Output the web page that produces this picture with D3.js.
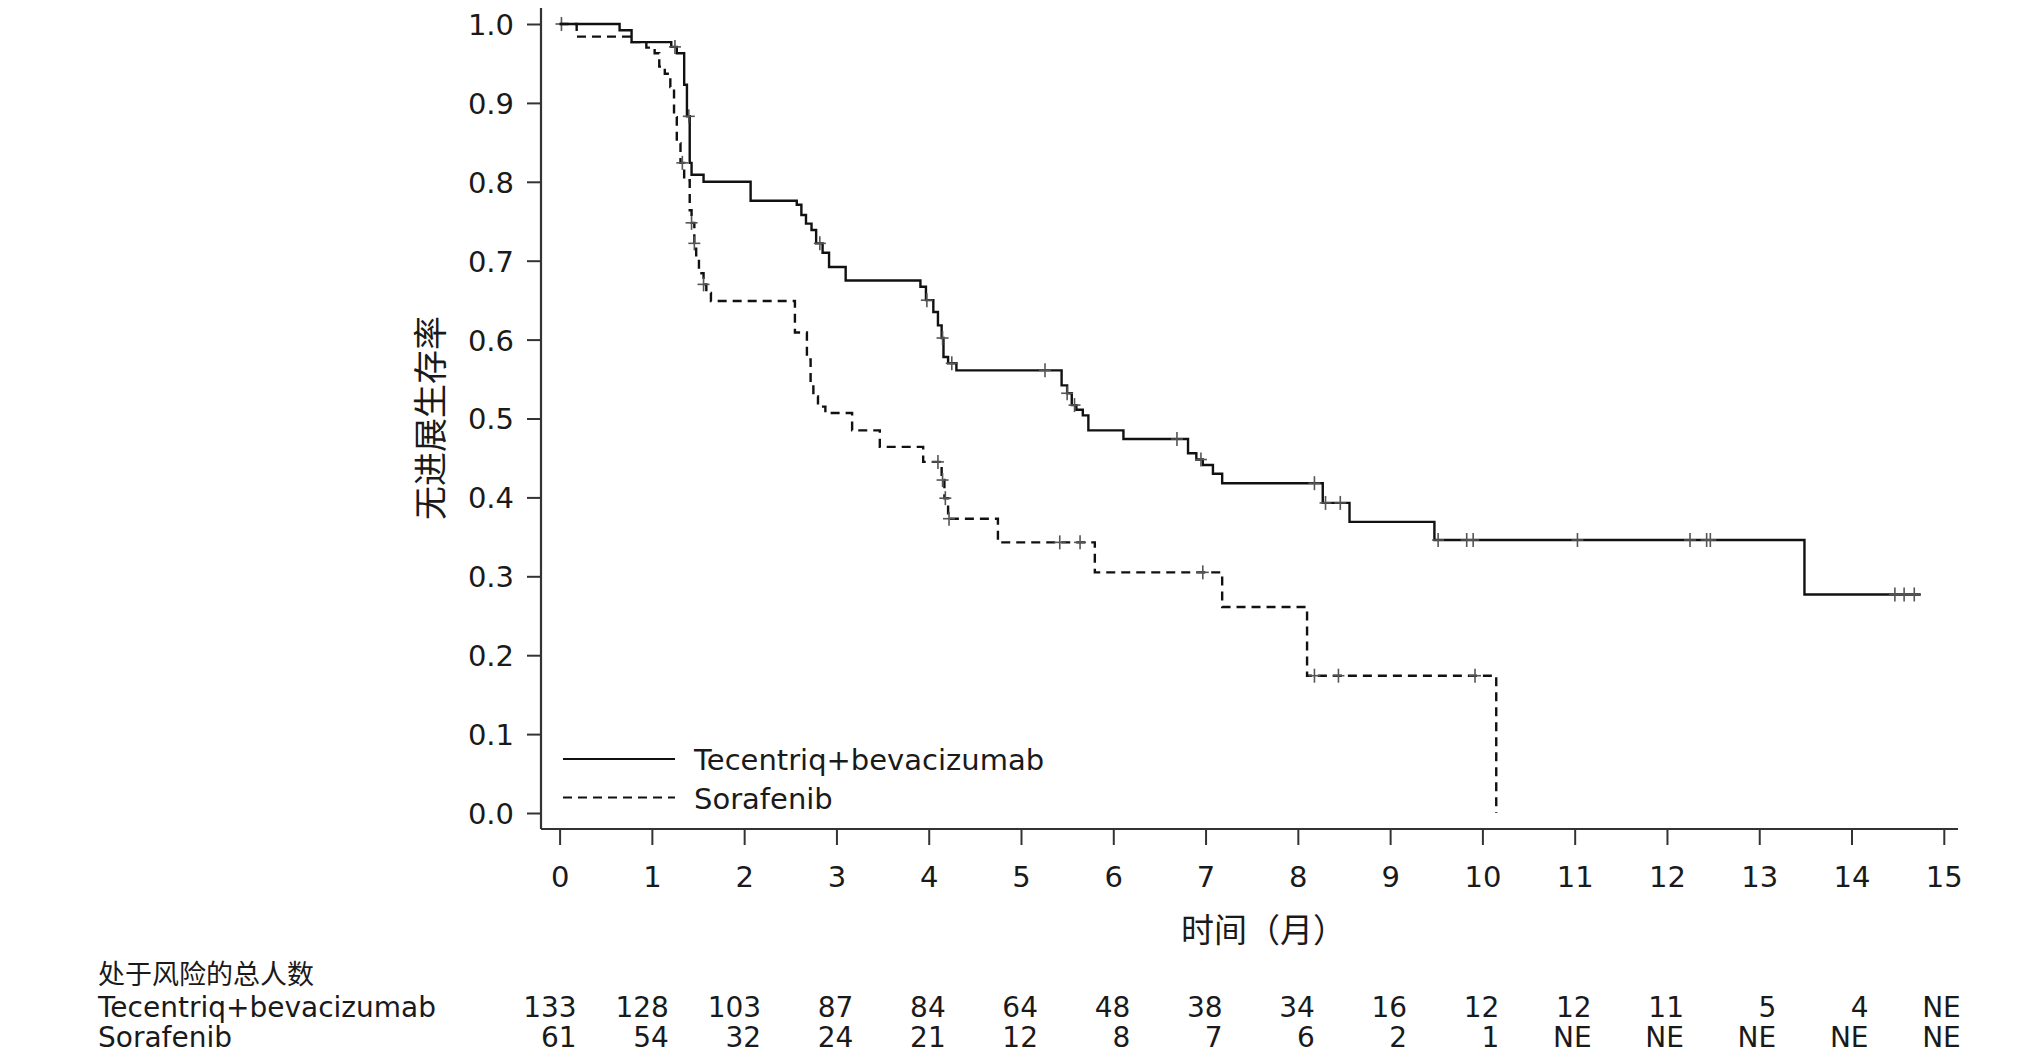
<!DOCTYPE html>
<html lang="zh">
<head>
<meta charset="utf-8" />
<title>无进展生存率</title>
<script src="https://d3js.org/d3.v7.min.js"></script>
<style>
  body { margin: 0; background: #fff; }
  svg text { font-family: "DejaVu Sans", Verdana, sans-serif; fill: #1a1a1a; }
  .cjk { font-family: "Noto Sans CJK SC", "Noto Sans", sans-serif; }
  .axis text { font-size: 29px; }
  .axis line { stroke: #333; stroke-width: 2; }
</style>
</head>
<body>
<svg width="2017" height="1064"></svg>
<script>
// Tecentriq+bevacizumab: step times (months) and survival after each step
var atezoTimes = [0, 0.65, 0.78, 1.21, 1.27, 1.35, 1.38, 1.41, 1.43, 1.56, 2.07, 2.57, 2.62, 2.67, 2.73, 2.78, 2.85, 2.92, 3.10, 3.91, 3.97, 4.05, 4.10, 4.14, 4.16, 4.21, 4.30, 5.44, 5.50, 5.55, 5.60, 5.67, 5.73, 6.11, 6.81, 6.90, 6.97, 7.08, 7.18, 8.27, 8.56, 9.48, 13.49];
var atezoSurv  = [1.0, 0.992, 0.977, 0.971, 0.963, 0.923, 0.883, 0.824, 0.809, 0.800, 0.776, 0.771, 0.758, 0.747, 0.739, 0.722, 0.710, 0.692, 0.675, 0.667, 0.650, 0.635, 0.618, 0.602, 0.578, 0.570, 0.561, 0.542, 0.532, 0.517, 0.511, 0.504, 0.485, 0.474, 0.456, 0.448, 0.441, 0.430, 0.418, 0.393, 0.369, 0.346, 0.277];
var atezoEnd = 14.75;
var atezoCensor = [0.02, 1.25, 1.40, 2.82, 3.98, 4.15, 4.25, 5.26, 5.50, 5.58, 6.69, 6.95, 8.18, 8.30, 8.46, 9.52, 9.83, 9.90, 11.03, 12.25, 12.43, 12.47, 14.47, 14.57, 14.68];

// Sorafenib
var soraTimes = [0, 0.185, 0.78, 0.94, 1.03, 1.08, 1.14, 1.20, 1.24, 1.27, 1.31, 1.35, 1.41, 1.43, 1.46, 1.48, 1.51, 1.56, 1.59, 1.64, 2.55, 2.68, 2.72, 2.75, 2.80, 2.88, 3.17, 3.47, 3.94, 4.14, 4.17, 4.21, 4.75, 5.80, 7.18, 8.10, 10.15];
var soraSurv  = [1.0, 0.984, 0.977, 0.970, 0.963, 0.946, 0.937, 0.920, 0.882, 0.849, 0.824, 0.802, 0.764, 0.748, 0.722, 0.707, 0.684, 0.670, 0.659, 0.649, 0.609, 0.575, 0.545, 0.528, 0.515, 0.507, 0.485, 0.464, 0.445, 0.422, 0.399, 0.373, 0.343, 0.305, 0.261, 0.174, 0.0];
var soraEnd = 10.15;
var soraCensor = [1.33, 1.43, 1.46, 1.56, 4.10, 4.15, 4.18, 4.22, 5.42, 5.64, 6.97, 8.18, 8.44, 9.92];

var xTicks = [0, 1, 2, 3, 4, 5, 6, 7, 8, 9, 10, 11, 12, 13, 14, 15];
var yTicks = [0, 0.1, 0.2, 0.3, 0.4, 0.5, 0.6, 0.7, 0.8, 0.9, 1.0];

var armNames = ["Tecentriq+bevacizumab", "Sorafenib"];
var atezoRisk = ["133", "128", "103", "87", "84", "64", "48", "38", "34", "16", "12", "12", "11", "5", "4", "NE"];
var soraRisk  = ["61", "54", "32", "24", "21", "12", "8", "7", "6", "2", "1", "NE", "NE", "NE", "NE", "NE"];

var svg = d3.select("svg");

var x = d3.scaleLinear().domain([0, 15]).range([559.6, 1943.8]);
var y = d3.scaleLinear().domain([0, 1]).range([813, 24]);

var yAxisX = 541, xAxisY = 829;

// y axis
var gy = svg.append("g")
    .attr("class", "axis")
    .attr("transform", "translate(" + yAxisX + ",0)")
    .call(d3.axisLeft(y).tickValues(yTicks).tickFormat(d3.format(".1f")).tickSize(14).tickPadding(13));
gy.select(".domain").remove();
gy.selectAll("text").attr("dy", "0.36em");
svg.append("line")
    .attr("x1", yAxisX).attr("x2", yAxisX)
    .attr("y1", 8).attr("y2", xAxisY)
    .style("stroke", "#333").style("stroke-width", 2.2);

// x axis
var gx = svg.append("g")
    .attr("class", "axis")
    .attr("transform", "translate(0," + xAxisY + ")")
    .call(d3.axisBottom(x).tickValues(xTicks).tickFormat(d3.format("d")).tickSize(16).tickPadding(21));
gx.select(".domain").remove();
svg.append("line")
    .attr("x1", yAxisX).attr("x2", 1958)
    .attr("y1", xAxisY).attr("y2", xAxisY)
    .style("stroke", "#333").style("stroke-width", 2.2);

// axis titles
svg.append("text")
    .attr("class", "cjk")
    .attr("transform", "translate(428,418) rotate(-90)")
    .attr("text-anchor", "middle")
    .attr("dominant-baseline", "central")
    .style("font-size", "34px")
    .text("无进展生存率");

svg.append("text")
    .attr("class", "cjk")
    .attr("x", 1181)
    .attr("y", 942)
    .style("font-size", "33px")
    .text("时间（月）");

// KM curves
var line = d3.line()
    .x(function(d) { return x(d[0]); })
    .y(function(d) { return y(d[1]); })
    .curve(d3.curveStepAfter);

function steps(times, surv, end) {
  var pts = times.map(function(t, i) { return [t, surv[i]]; });
  pts.push([end, surv[surv.length - 1]]);
  return pts;
}

function survAt(times, surv, t) {
  var s = surv[0];
  for (var i = 0; i < times.length; i++) { if (times[i] <= t) s = surv[i]; }
  return s;
}

var arms = [
  {times: atezoTimes, surv: atezoSurv, end: atezoEnd, censor: atezoCensor, dash: null},
  {times: soraTimes, surv: soraSurv, end: soraEnd, censor: soraCensor, dash: "9,6"}
];

arms.forEach(function(a) {
  svg.append("path")
      .datum(steps(a.times, a.surv, a.end))
      .attr("d", line)
      .style("fill", "none")
      .style("stroke", "#111")
      .style("stroke-width", 2.4)
      .style("stroke-dasharray", a.dash);

  var c = svg.append("g").selectAll("g")
      .data(a.censor).enter().append("g")
      .attr("transform", function(t) { return "translate(" + x(t) + "," + y(survAt(a.times, a.surv, t)) + ")"; });
  c.append("line").attr("x1", -6).attr("x2", 6).attr("y1", 0).attr("y2", 0);
  c.append("line").attr("x1", 0).attr("x2", 0).attr("y1", -7).attr("y2", 7);
  c.selectAll("line").style("stroke", "#555").style("stroke-width", 1.6);
});

// legend
var legend = svg.append("g");
arms.forEach(function(a, i) {
  var ly = 759 + i * 38.5;
  legend.append("line")
      .attr("x1", 563).attr("x2", 675)
      .attr("y1", ly).attr("y2", ly)
      .style("stroke", "#111").style("stroke-width", 2.2)
      .style("stroke-dasharray", a.dash);
  legend.append("text")
      .attr("x", 694)
      .attr("y", ly + 11)
      .style("font-size", "29px")
      .text(armNames[i]);
});

// number at risk table
svg.append("text")
    .attr("class", "cjk")
    .attr("x", 98)
    .attr("y", 984)
    .style("font-size", "27px")
    .text("处于风险的总人数");

[atezoRisk, soraRisk].forEach(function(row, i) {
  var by = 1017 + i * 30;
  svg.append("text")
      .attr("x", 98)
      .attr("y", by)
      .style("font-size", "28px")
      .text(armNames[i]);
  svg.append("g").selectAll("text")
      .data(row).enter().append("text")
      .attr("x", function(d, j) { return x(xTicks[j]) + 17; })
      .attr("y", by)
      .attr("text-anchor", "end")
      .style("font-size", "28px")
      .text(function(d) { return d; });
});
</script>
</body>
</html>
